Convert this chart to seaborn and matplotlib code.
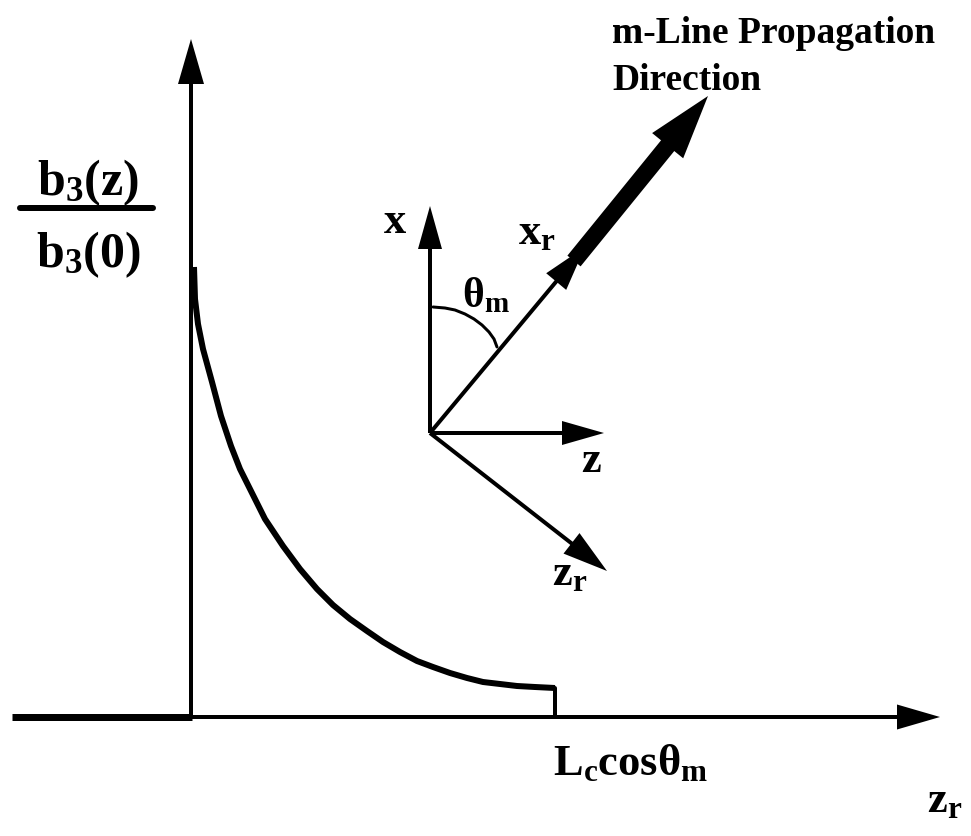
import numpy as np
import seaborn as sns
import matplotlib.pyplot as plt

# decay curve b3(z)/b3(0) (pixel frame, y downwards)
curve_x = [194, 195, 198, 203, 212, 221, 231, 240, 250, 265, 283, 300, 317, 333, 350, 367, 383, 400, 417, 433, 450, 467, 483, 500, 517, 535, 555]
curve_y = [268, 300, 325, 350, 383, 417, 447, 470, 490, 520, 547, 570, 590, 606, 620, 632, 643, 653, 662, 668, 674, 679, 683, 685, 687, 688, 689]

# theta_m arc between x and x_r
arc_x = [433, 445, 455, 465, 474, 482, 489, 494, 497]
arc_y = [308, 309, 311, 315, 320, 326, 333, 340, 348]

origin = (430, 434)
axis_base = (191, 718)

sns.set_theme(style="white")
plt.rcParams['font.family'] = ['Liberation Serif', 'DejaVu Serif']
plt.rcParams['font.weight'] = 'bold'
plt.rcParams['text.color'] = 'black'
plt.rcParams['mathtext.fontset'] = 'custom'
plt.rcParams['mathtext.rm'] = 'Liberation Serif:bold'
plt.rcParams['mathtext.it'] = 'Liberation Serif:bold'
plt.rcParams['mathtext.bf'] = 'Liberation Serif:bold'

fig = plt.figure(figsize=(9.71, 8.37), dpi=100)
ax = fig.add_axes([0, 0, 1, 1])
ax.set_xlim(0, 971)
ax.set_ylim(837, 0)
ax.axis('off')

PX = 0.72  # points per pixel


def arrow(start, tip, lw, head_len, head_half):
    start = np.array(start, float)
    tip = np.array(tip, float)
    d = tip - start
    u = d / np.hypot(*d)
    n = np.array([-u[1], u[0]])
    base = tip - u * head_len
    ax.plot([start[0], base[0] + u[0] * 3], [start[1], base[1] + u[1] * 3],
            color='black', lw=lw * PX, solid_capstyle='butt')
    pts = np.array([tip, base + n * head_half, base - n * head_half])
    ax.fill(pts[:, 0], pts[:, 1], color='black', lw=0)


# main axes
arrow(axis_base, (191, 40), 4, 45, 13)
ax.plot([12, 192], [718, 718], color='black', lw=7 * PX, solid_capstyle='butt')
arrow((190, 718), (940, 718), 4, 43, 12.5)

# curve and end tick
sns.lineplot(x=curve_x, y=curve_y, sort=False, estimator=None, color='black',
             lw=6 * PX, ax=ax, solid_joinstyle='round', solid_capstyle='butt')
ax.plot([555, 555], [689, 718], color='black', lw=4 * PX)

# local frame
arrow(origin, (430, 207), 4, 43, 12)
arrow(origin, (604, 434), 4, 42, 12)
arrow(origin, (607, 572), 4, 45, 13)
arrow(origin, (585, 248), 4, 45, 13)
arrow((574, 262), (708, 97), 17, 64, 20)
ax.plot(arc_x, arc_y, color='black', lw=3 * PX, solid_joinstyle='round')

# fraction label
ax.text(88, 195, r'$\mathrm{b_3(z)}$', fontsize=36, ha='center', va='baseline')
ax.plot([20, 153], [209, 209], color='black', lw=6 * PX)
ax.text(88, 267, r'$\mathrm{b_3(0)}$', fontsize=36, ha='center', va='baseline')

ax.text(612, 43, 'm-Line Propagation', fontsize=27, fontweight='bold', va='baseline')
ax.text(612, 90, 'Direction', fontsize=27, fontweight='bold', va='baseline')

ax.text(395, 233, r'$\mathrm{x}$', fontsize=32, ha='center', va='baseline')
ax.text(462, 307, r'$\mathrm{\theta_m}$', fontsize=30, va='baseline')
ax.text(518, 244, r'$\mathrm{x_r}$', fontsize=32, va='baseline')
ax.text(591, 472, r'$\mathrm{z}$', fontsize=32, ha='center', va='baseline')
ax.text(552, 585, r'$\mathrm{z_r}$', fontsize=32, va='baseline')
ax.text(553, 775, r'$\mathrm{L_c cos\theta_m}$', fontsize=32, va='baseline')
ax.text(927, 812, r'$\mathrm{z_r}$', fontsize=32, va='baseline')

fig.savefig('out.png', dpi=100, facecolor='white')
